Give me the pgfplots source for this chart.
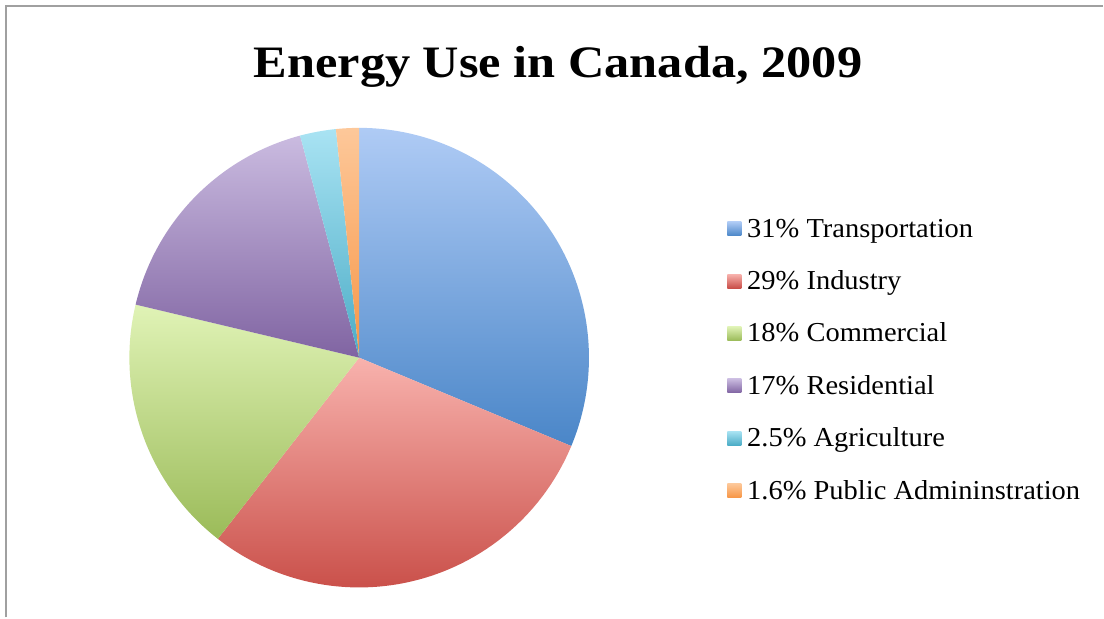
\documentclass[border=0pt]{standalone}
\usepackage{pgfplots}
\pgfplotsset{compat=1.18}
\usepackage{pgfplotstable}
\usepackage{fontspec}
\setmainfont{Liberation Serif}

\definecolor{st0}{HTML}{AFCBF5}\definecolor{sb0}{HTML}{4A86C8}
\definecolor{st1}{HTML}{F8B2AD}\definecolor{sb1}{HTML}{C94E48}
\definecolor{st2}{HTML}{E0F3B6}\definecolor{sb2}{HTML}{9BBB59}
\definecolor{st3}{HTML}{CABBE0}\definecolor{sb3}{HTML}{8064A2}
\definecolor{st4}{HTML}{A9E3F3}\definecolor{sb4}{HTML}{4BACC6}
\definecolor{st5}{HTML}{FDC89A}\definecolor{sb5}{HTML}{F79646}
\definecolor{frame}{HTML}{A0A0A0}

\pgfplotstableread[col sep=comma]{
pct,label
31,Transportation
29,Industry
18,Commercial
17,Residential
2.5,Agriculture
1.6,Public Admininstration
}\piedata

\begin{document}
\begin{tikzpicture}
\begin{axis}[
  scale only axis, width=552pt, height=309pt,
  xmin=0, xmax=1104, ymin=0, ymax=618,
  hide axis, clip=false,
]
\path (axis cs:0,0) rectangle (axis cs:1104,618);
\draw[frame, line width=1pt] (axis cs:6.5,0) -- (axis cs:6.5,611.5) -- (axis cs:1104,611.5);
\node[anchor=base, xscale=1.12, font=\fontsize{22.5}{26}\selectfont\bfseries] at (axis cs:558.5,540) {Energy Use in Canada, 2009};
\pgfplotstablegetrowsof{\piedata}
\pgfmathtruncatemacro{\nrows}{\pgfplotsretval-1}
\xdef\startang{90}
\pgfplotsforeachungrouped \i in {0,...,\nrows}{%
  \pgfplotstablegetelem{\i}{pct}\of\piedata \let\pct\pgfplotsretval
  \pgfplotstablegetelem{\i}{label}\of\piedata \let\lab\pgfplotsretval
  \pgfmathsetmacro{\endang}{\startang - \pct/99.1*360}%
  \pgfmathsetmacro{\ly}{389 - 52.4*\i}%
  \pgfmathsetmacro{\lb}{380.5 - 52.4*\i}%
  \edef\temp{%
    \noexpand\path[top color=st\i, bottom color=sb\i] (axis cs:359.5,260) -- ++(\startang:115pt) arc[start angle=\startang, end angle=\endang, radius=115pt] -- cycle;
    \noexpand\path[top color=st\i, bottom color=sb\i] (axis cs:728,\ly-7) rectangle (axis cs:742,\ly+7);
    \noexpand\node[anchor=base west, inner sep=0pt, xscale=1.04, font=\noexpand\fontsize{13.7}{16}\noexpand\selectfont] at (axis cs:747.5,\lb) {\pct\noexpand\% \lab};
  }\temp
  \xdef\startang{\endang}%
}
\end{axis}
\end{tikzpicture}
\end{document}
